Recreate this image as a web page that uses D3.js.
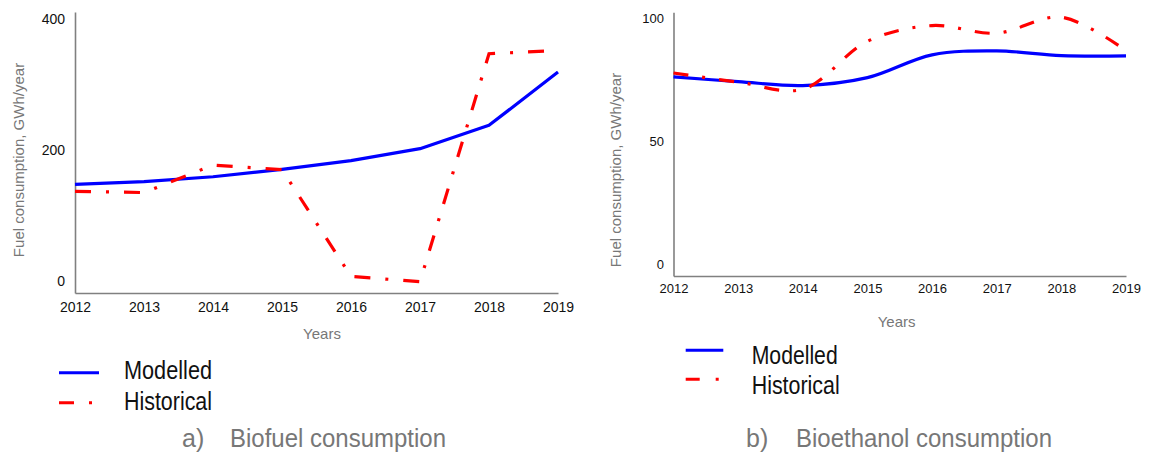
<!DOCTYPE html>
<html>
<head>
<meta charset="utf-8">
<script src="https://cdn.jsdelivr.net/npm/d3@7/dist/d3.min.js"></script>
<style>
  html, body { margin: 0; padding: 0; background: #fff; }
  svg { display: block; font-family: "Liberation Sans", Arial, sans-serif; }
</style>
</head>
<body>
<svg id="chart" width="1149" height="454"></svg>
<script>
// Years shared by both panels
const years = [2012, 2013, 2014, 2015, 2016, 2017, 2018, 2019];

// a) Biofuel consumption, GWh/year
const biofuelModelled   = [147.6, 151.6, 159.2, 170.5, 183.7, 202.0, 237.7, 319.0];
const biofuelHistorical = [137.0, 135.0, 177.0, 170.0, 7.0, -1.0, 347.0, 352.0];
const biofuelTicks = [0, 200, 400];

// b) Bioethanol consumption, GWh/year
const bioethanolModelled   = [76.1, 74.2, 72.6, 75.8, 85.1, 86.7, 84.8, 84.7];
const bioethanolHistorical = [77.7, 74.0, 71.1, 90.6, 97.0, 93.9, 100.4, 86.8];
const bioethanolTicks = [0, 50, 100];

const seriesNames = ["Modelled", "Historical"];
const seriesColors = ["#0000ff", "#ff0000"];

const svg = d3.select("#chart");
const font = '"Liberation Sans", Arial, sans-serif';

function drawPanel(p) {
  const x = d3.scaleLinear().domain(d3.extent(years)).range([p.left, p.right]);
  const y = d3.scaleLinear().domain(p.yDomain).range([p.bottom, p.top]);
  const g = svg.append("g");

  // y axis
  const ya = g.append("g")
    .attr("transform", `translate(${p.left},0)`)
    .call(d3.axisLeft(y).tickValues(p.ticks).tickSize(0).tickSizeOuter(0).tickPadding(p.yPad));
  ya.select(".domain").attr("stroke", "#808080").attr("stroke-width", 1.6);
  ya.selectAll("text").attr("font-family", font).attr("font-size", p.tickSize).attr("fill", "#111");

  // x axis
  const xa = g.append("g")
    .attr("transform", `translate(0,${p.bottom})`)
    .call(d3.axisBottom(x).tickValues(years).tickFormat(d3.format("d")).tickSize(0).tickSizeOuter(0).tickPadding(p.xPad));
  xa.select(".domain").attr("stroke", "#808080").attr("stroke-width", 1.6);
  xa.selectAll("text").attr("font-family", font).attr("font-size", p.tickSize).attr("fill", "#111");

  // axis titles
  g.append("text")
    .attr("transform", `translate(${p.yTitleX},${p.yTitleY}) rotate(-90)`)
    .attr("text-anchor", "middle")
    .attr("font-size", 15).attr("fill", "#777")
    .text("Fuel consumption, GWh/year");
  g.append("text")
    .attr("x", p.xTitleX).attr("y", p.xTitleY)
    .attr("text-anchor", "middle")
    .attr("font-size", 15).attr("fill", "#777")
    .text("Years");

  // series lines
  const line = d3.line().x((d, i) => x(years[i])).y(d => y(d)).curve(p.curve);
  g.append("path").datum(p.modelled)
    .attr("d", line).attr("fill", "none")
    .attr("stroke", seriesColors[0]).attr("stroke-width", 3.2)
    .attr("stroke-linejoin", "round");
  g.append("path").datum(p.historical)
    .attr("d", line).attr("fill", "none")
    .attr("stroke", seriesColors[1]).attr("stroke-width", 3.2)
    .attr("stroke-dasharray", p.dash);

  // legend
  const lg = g.append("g");
  seriesNames.forEach((name, i) => {
    const ly = p.legendY[i];
    lg.append("line")
      .attr("x1", p.legendX1).attr("x2", p.legendX2)
      .attr("y1", ly).attr("y2", ly)
      .attr("stroke", seriesColors[i]).attr("stroke-width", 3)
      .attr("stroke-dasharray", i === 1 ? p.legendDash : null);
    lg.append("text")
      .attr("x", p.legendTextX).attr("y", p.legendBase[i])
      .attr("font-size", 25).attr("fill", "#111")
      .attr("textLength", p.legendLen[i]).attr("lengthAdjust", "spacingAndGlyphs")
      .text(name);
  });

  // caption
  g.append("text")
    .attr("x", p.capLetterX).attr("y", 447)
    .attr("font-size", 25).attr("fill", "#777")
    .text(p.capLetter);
  g.append("text")
    .attr("x", p.capX).attr("y", 447)
    .attr("font-size", 25).attr("fill", "#777")
    .attr("textLength", p.capLen).attr("lengthAdjust", "spacingAndGlyphs")
    .text(p.caption);
}

drawPanel({
  left: 75, right: 558, top: 12, bottom: 293,
  yDomain: [-18.3, 410.7], ticks: biofuelTicks,
  tickSize: 14, yPad: 10, xPad: 9,
  yTitleX: 24, yTitleY: 160, xTitleX: 322, xTitleY: 339,
  modelled: biofuelModelled, historical: biofuelHistorical,
  curve: d3.curveLinear, dash: "16,15,3,15",
  legendX1: 59, legendX2: 99, legendY: [372.7, 402.7], legendDash: "15,15,3,20",
  legendTextX: 124, legendBase: [379, 410], legendLen: [88, 88],
  capLetter: "a)", capLetterX: 182, caption: "Biofuel consumption", capX: 230, capLen: 216
});

drawPanel({
  left: 673.5, right: 1126, top: 12.3, bottom: 276,
  yDomain: [-4.9, 102.4], ticks: bioethanolTicks,
  tickSize: 13, yPad: 9.5, xPad: 8,
  yTitleX: 621, yTitleY: 170, xTitleX: 896.6, xTitleY: 327,
  modelled: bioethanolModelled, historical: bioethanolHistorical,
  curve: d3.curveCatmullRom, dash: "15,14,3,14",
  legendX1: 685.7, legendX2: 723.3, legendY: [350.3, 379.3], legendDash: "14,16,3,20",
  legendTextX: 751.7, legendBase: [364, 394], legendLen: [86, 88],
  capLetter: "b)", capLetterX: 746, caption: "Bioethanol consumption", capX: 796, capLen: 256
});
</script>
</body>
</html>
